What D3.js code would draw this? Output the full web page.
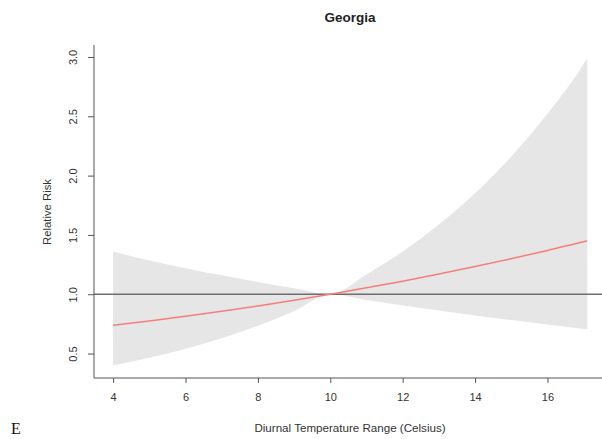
<!DOCTYPE html>
<html lang="en">
<head>
    <meta charset="UTF-8">
    <title>Georgia - Relative Risk</title>
    <style>
        body {
            margin: 0;
            background: #fff;
        }
        svg {
            display: block;
            font-family: "Liberation Sans", Arial, sans-serif;
        }
    </style>
</head>
<body>
    <svg id="chart" width="602" height="439"></svg>
    <script src="https://d3js.org/d3.v7.min.js"></script>
    <script>
        // values
        const temps = [4, 5, 6, 7, 8, 9, 10, 11, 12, 13, 14, 15, 16, 17, 17.1];
        const rr    = [0.738, 0.775, 0.814, 0.856, 0.901, 0.949, 1.0, 1.054, 1.110, 1.170, 1.233, 1.300, 1.369, 1.443, 1.450];
        const upper = [1.36, 1.285, 1.220, 1.160, 1.104, 1.051, 1.0, 1.167, 1.361, 1.588, 1.852, 2.161, 2.521, 2.941, 2.99];
        const lower = [0.402, 0.465, 0.541, 0.630, 0.735, 0.857, 1.0, 0.952, 0.906, 0.863, 0.821, 0.782, 0.744, 0.708, 0.705];
        const xTicks = [4, 6, 8, 10, 12, 14, 16];
        const yTicks = [0.5, 1.0, 1.5, 2.0, 2.5, 3.0];

        const svg = d3.select('#chart');

        // plot region (R style, 4% padding on the data range)
        const x = d3.scaleLinear().domain([3.472, 17.728]).range([94, 610]);
        const y = d3.scaleLinear().domain([0.294, 3.101]).range([378, 45]);

        const rows = temps.map((t, i) => ({ t, rr: rr[i], hi: upper[i], lo: lower[i] }));

        // confidence band
        svg.append('path')
            .datum(rows)
            .attr('fill', '#e6e6e6')
            .attr('d', d3.area()
                .x(d => x(d.t))
                .y0(d => y(d.lo))
                .y1(d => y(d.hi))
                .curve(d3.curveMonotoneX));

        // reference line at RR = 1
        svg.append('line')
            .attr('x1', x.range()[0]).attr('x2', 602)
            .attr('y1', y(1)).attr('y2', y(1))
            .attr('stroke', '#6e6e6e')
            .attr('stroke-width', 1.3);

        // estimate
        svg.append('path')
            .datum(rows)
            .attr('fill', 'none')
            .attr('stroke', '#f47f7a')
            .attr('stroke-width', 1.5)
            .attr('d', d3.line()
                .x(d => x(d.t))
                .y(d => y(d.rr))
                .curve(d3.curveMonotoneX));

        // axes
        const xAxis = svg.append('g')
            .attr('transform', `translate(0,${y.range()[0]})`)
            .call(d3.axisBottom(x).tickValues(xTicks).tickSize(5).tickPadding(10)
                .tickFormat(d3.format('d')));
        xAxis.select('.domain').attr('d', `M${x.range()[0]},0H602`);

        const yAxis = svg.append('g')
            .attr('transform', `translate(${x.range()[0]},0)`)
            .call(d3.axisLeft(y).tickValues(yTicks).tickSize(6).tickPadding(0)
                .tickFormat(d3.format('.1f')));
        yAxis.select('.domain').attr('d', `M0,${y.range()[1]}V${y.range()[0]}`);
        yAxis.selectAll('.tick text')
            .attr('transform', 'rotate(-90)')
            .attr('x', 0)
            .attr('y', -17)
            .attr('dy', 0)
            .attr('text-anchor', 'middle');

        svg.selectAll('.domain, .tick line')
            .attr('stroke', '#555')
            .attr('stroke-width', 1);
        svg.selectAll('.tick text')
            .attr('fill', '#333')
            .attr('font-size', 11)
            .attr('font-family', '"Liberation Sans", Arial, sans-serif');

        // labels
        svg.append('text')
            .attr('x', 350).attr('y', 22)
            .attr('text-anchor', 'middle')
            .attr('font-size', 13.5)
            .attr('font-weight', 'bold')
            .attr('fill', '#222')
            .text('Georgia');

        svg.append('text')
            .attr('x', 350).attr('y', 432)
            .attr('text-anchor', 'middle')
            .attr('font-size', 11.6)
            .attr('fill', '#333')
            .text('Diurnal Temperature Range (Celsius)');

        svg.append('text')
            .attr('transform', 'translate(51,212) rotate(-90)')
            .attr('text-anchor', 'middle')
            .attr('font-size', 11.3)
            .attr('fill', '#333')
            .text('Relative Risk');

        svg.append('text')
            .attr('x', 11).attr('y', 434)
            .attr('font-family', '"Liberation Serif", "Times New Roman", serif')
            .attr('font-size', 16)
            .attr('fill', '#111')
            .text('E');
    </script>
</body>
</html>
